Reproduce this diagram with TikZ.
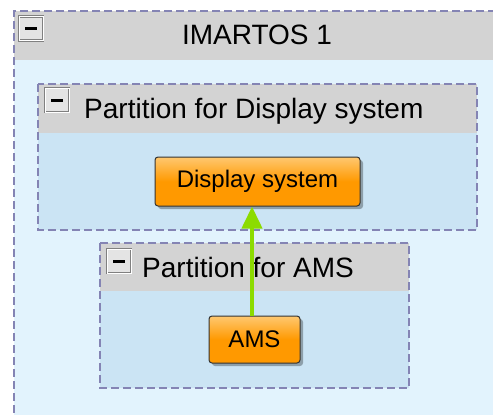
\documentclass[tikz,border=0pt]{standalone}
\usepackage{fontspec}
\setmainfont{Liberation Sans}
\usetikzlibrary{shadows,arrows.meta}
\definecolor{outerfill}{HTML}{E2F3FD}
\definecolor{innerfill}{HTML}{CBE4F4}
\definecolor{hdrgray}{HTML}{D3D3D3}
\definecolor{cborder}{HTML}{8484B4}
\definecolor{orangemain}{HTML}{FF9900}
\definecolor{orangelight}{HTML}{FFC870}
\definecolor{arrowgreen}{HTML}{8CDB00}
\definecolor{iconfill}{HTML}{E4E4E4}
\definecolor{iconborder}{HTML}{808080}
\begin{document}
\begin{tikzpicture}[x=1pt,y=-1pt,
  dashborder/.style={draw=cborder,line width=1.4pt,dash pattern=on 8pt off 4pt},
  headtext/.style={inner sep=0pt,font=\fontsize{28}{32}\selectfont},
  compbox/.style={draw=black!80,line width=1pt,rounded corners=3pt,
    top color=orangelight,bottom color=orangemain,middle color=orangemain,
    drop shadow={shadow xshift=3pt,shadow yshift=-3pt,opacity=0.3,fill=black},
    font=\fontsize{24}{28}\selectfont,inner sep=0pt},
  iconbox/.style={draw=iconborder,fill=iconfill,line width=0.8pt,minimum size=24pt,inner sep=0pt,
    double=white,double distance=0.8pt},
  flow/.style={draw=arrowgreen,line width=4pt,-{Triangle[length=22pt,width=20pt]}}
]
\useasboundingbox (0,0) rectangle (493,415);
\clip (0,0) rectangle (493,415);
\fill[white] (0,0) rectangle (493,415);
% outer container
\fill[outerfill] (14,11) rectangle (520,440);
\fill[hdrgray] (14,11) rectangle (520,60);
\draw[dashborder] (520,11) -- (14,11) -- (14,440);
\node[iconbox] (icoOuter) at (31,28.5) {};
\draw[line width=3pt] (25,28.5) -- (37,28.5);
\node[headtext,anchor=base] (outerT) at (257,45) {IMARTOS 1};
% partition for display
\fill[innerfill] (38,84) rectangle (477,230);
\fill[hdrgray] (38,84) rectangle (477,133);
\draw[dashborder] (38,84) rectangle (477,230);
\node[iconbox] (icoDisp) at (57,100) {};
\draw[line width=3pt] (51,100) -- (63,100);
\node[headtext,anchor=base west] (dispT) at (84,118) {Partition for Display system};
% partition for AMS
\fill[innerfill] (100,243) rectangle (409,388);
\fill[hdrgray] (100,243) rectangle (409,291);
\draw[dashborder] (100,243) rectangle (409,388);
\node[iconbox] (icoAMS) at (119,261) {};
\draw[line width=3pt] (113,261) -- (125,261);
\node[headtext,anchor=base west] (amsT) at (142,277) {Partition for AMS};
% components
\node[compbox,minimum width=205pt,minimum height=49pt] (disp) at (257.5,181.5) {Display system};
\node[compbox,minimum width=91pt,minimum height=47pt] (ams) at (254.5,339.5) {AMS};
% connector
\draw[flow] ([xshift=-2.5pt]ams.north) -- ([xshift=-5.5pt]disp.south);
\end{tikzpicture}
\end{document}
